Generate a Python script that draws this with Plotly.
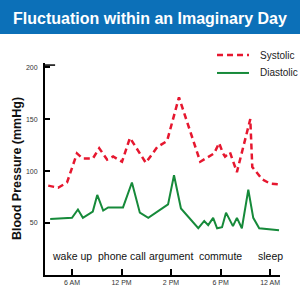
import plotly.graph_objects as go

# x positions in axis units: 1=6 AM, 2=12 PM, 3=2 PM, 4=6 PM, 5=12 AM
sys_x = [0.52, 0.72, 0.90, 1.10, 1.22, 1.42, 1.55, 1.71, 1.83, 2.01, 2.17, 2.49, 2.72, 2.92,
         3.16, 3.59, 3.87, 3.97, 4.05, 4.09, 4.19, 4.33, 4.60, 4.64, 4.84, 5.00, 5.20]
sys_y = [86, 84, 89, 117, 112, 112, 122, 111, 114, 109, 132, 108, 123, 129,
         171, 109, 117, 127, 117, 114, 118, 99, 150, 104, 92, 88, 87]

dia_x = [0.56, 1.00, 1.12, 1.22, 1.42, 1.51, 1.63, 1.73, 2.03, 2.21, 2.37, 2.54, 2.94, 3.06,
         3.20, 3.55, 3.67, 3.75, 3.85, 3.93, 4.03, 4.11, 4.25, 4.33, 4.43, 4.56, 4.66, 4.78, 5.18]
dia_y = [54, 55, 63, 55, 61, 77, 62, 65, 65, 89, 60, 55, 68, 96,
         64, 45, 52, 48, 55, 45, 46, 60, 47, 55, 45, 82, 55, 45, 43]

tick_pos = [1, 2, 3, 4, 5]
tick_labels = ["6 AM", "12 PM", "2 PM", "6 PM", "12 AM"]
events = ["wake up", "phone call", "argument", "commute", "sleep"]
event_level = 18

FONT = "Liberation Sans, Arial, sans-serif"
RED = "#e6172f"
GREEN = "#168a3a"

fig = go.Figure()
fig.add_trace(go.Scatter(x=sys_x, y=sys_y, mode="lines", name="Systolic",
                         line=dict(color=RED, width=2.5, dash="6px,4px")))
fig.add_trace(go.Scatter(x=dia_x, y=dia_y, mode="lines", name="Diastolic",
                         line=dict(color=GREEN, width=2)))

for xp, ev in zip(tick_pos, events):
    fig.add_annotation(x=xp, y=event_level, text=ev, showarrow=False,
                       font=dict(family=FONT, size=10.5, color="#111"),
                       xanchor="center", yanchor="middle")

fig.add_annotation(xref="paper", yref="paper", x=-0.119, y=0.5,
                   text="<b>Blood Pressure (mmHg)</b>", textangle=-90, showarrow=False,
                   font=dict(family=FONT, size=12.5, color="#111"),
                   xanchor="center", yanchor="middle")

# banner
fig.add_shape(type="rect", xref="paper", yref="paper",
              x0=-0.25, x1=1.15, y0=1.137, y1=1.35,
              fillcolor="#0c70b8", line=dict(width=0), layer="below")

# longer cap tick at the top of the y axis
fig.add_shape(type="line", xref="paper", yref="y", x0=0, x1=0.043, y0=202, y1=202,
              line=dict(color="black", width=1.5))

# legend (drawn manually to match reference placement)
leg = [("Systolic", RED, "6px,4px", 2.5, 1.0377), ("Diastolic", GREEN, "solid", 2, 0.953)]
for name, col, dash, w, yy in leg:
    fig.add_shape(type="line", xref="paper", yref="paper", x0=0.732, x1=0.868, y0=yy, y1=yy,
                  line=dict(color=col, width=w, dash=dash))
    fig.add_annotation(xref="paper", yref="paper", x=0.906, y=yy, text=name, showarrow=False,
                       xanchor="left", yanchor="middle",
                       font=dict(family=FONT, size=10, color="#222"))

fig.update_layout(
    width=300, height=300,
    margin=dict(l=45, r=20, t=63, b=25),
    paper_bgcolor="white", plot_bgcolor="white",
    title=dict(text="<b>Fluctuation within an Imaginary Day</b>",
               x=0.5, xref="container", xanchor="center",
               y=1 - 18 / 300, yref="container", yanchor="middle",
               font=dict(family=FONT, size=16, color="white")),
    showlegend=False,
    xaxis=dict(range=[0.455, 5.2], tickvals=tick_pos, ticktext=tick_labels,
               showgrid=False, zeroline=False, showline=True, linecolor="black", linewidth=2,
               ticks="inside", ticklen=6, tickwidth=1.5, tickcolor="black",
               tickfont=dict(family=FONT, size=7, color="#333")),
    yaxis=dict(range=[0, 204], tickvals=[50, 100, 150, 200],
               showgrid=False, zeroline=False, showline=True, linecolor="black", linewidth=2,
               ticks="inside", ticklen=5, tickwidth=1.5, tickcolor="black",
               ticklabelstandoff=4,
               tickfont=dict(family=FONT, size=7, color="#333")),
)

fig.write_html("out.html")
